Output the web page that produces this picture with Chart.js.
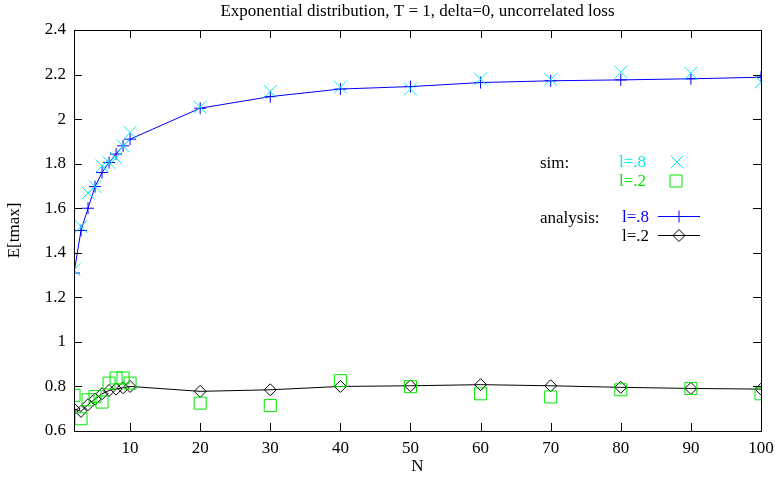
<!DOCTYPE html>
<html>
<head>
<meta charset="utf-8">
<script src="https://cdn.jsdelivr.net/npm/chart.js@4/dist/chart.umd.min.js"></script>
<style>
  html, body { margin: 0; padding: 0; background: #fff; }
  canvas { display: block; }
</style>
</head>
<body>
<canvas id="tmaxChart" width="775" height="477"></canvas>
<script>
// N values (2..10, then 20..100)
const nValues = [2, 3, 4, 5, 6, 7, 8, 9, 10, 20, 30, 40, 50, 60, 70, 80, 90, 100];

// simulation results
const simHigh = [1.324, 1.518, 1.668, 1.697, 1.79, 1.805, 1.825, 1.88, 1.94,
                 2.054, 2.124, 2.144, 2.135, 2.18, 2.178, 2.211, 2.206, 2.166];
const simLow = [0.76, 0.655, 0.74, 0.755, 0.73, 0.815, 0.838, 0.838, 0.815,
                0.725, 0.714, 0.826, 0.799, 0.767, 0.753, 0.785, 0.791, 0.767];

// analytical results
const anaHigh = [1.309, 1.50, 1.60, 1.697, 1.76, 1.805, 1.843, 1.88, 1.91,
                 2.049, 2.101, 2.135, 2.146, 2.164, 2.172, 2.176, 2.181, 2.188];
const anaLow = [0.699, 0.688, 0.718, 0.743, 0.767, 0.782, 0.788, 0.794, 0.80,
                0.778, 0.785, 0.80, 0.803, 0.808, 0.803, 0.796, 0.791, 0.788];

const xTicks = [10, 20, 30, 40, 50, 60, 70, 80, 90, 100];
const yTicks = [0.6, 0.8, 1.0, 1.2, 1.4, 1.6, 1.8, 2.0, 2.2, 2.4];

const TITLE = 'Exponential distribution, T = 1, delta=0, uncorrelated loss';
const FONT = 'Liberation Serif';
const FSIZE = 17;
const CYAN = '#00eeee';
const GREEN = '#00e600';
const BLUE = '#0000ff';
const NONE = 'rgba(0,0,0,0)';

function pts(ys) {
    return nValues.map((n, i) => ({ x: n, y: ys[i] }));
}

// gnuplot style frame: border plus inward ticks mirrored on all sides,
// title centred over the plot box
const framePlugin = {
    id: 'frame',
    afterDatasetsDraw(chart) {
        const ctx = chart.ctx;
        const a = chart.chartArea;
        const xs = chart.scales.x, ys = chart.scales.y;
        const len = 8;
        ctx.save();
        ctx.strokeStyle = '#000';
        ctx.lineWidth = 1;
        ctx.beginPath();
        xTicks.forEach(v => {
            const px = Math.round(xs.getPixelForValue(v)) + 0.5;
            ctx.moveTo(px, a.bottom); ctx.lineTo(px, a.bottom - len);
            ctx.moveTo(px, a.top); ctx.lineTo(px, a.top + len);
        });
        yTicks.forEach(v => {
            const py = Math.round(ys.getPixelForValue(v)) + 0.5;
            ctx.moveTo(a.left, py); ctx.lineTo(a.left + len, py);
            ctx.moveTo(a.right, py); ctx.lineTo(a.right - len, py);
        });
        ctx.stroke();
        ctx.strokeRect(Math.round(a.left) + 0.5, Math.round(a.top) + 0.5,
                       Math.round(a.right - a.left), Math.round(a.bottom - a.top));

        ctx.fillStyle = '#000';
        ctx.font = FSIZE + 'px "' + FONT + '"';
        ctx.textAlign = 'center';
        ctx.textBaseline = 'middle';
        ctx.fillText(TITLE, (a.left + a.right) / 2, 12);
        ctx.restore();
    }
};

// key in the upper right part of the plot
const keyPlugin = {
    id: 'key',
    afterDraw(chart) {
        const ctx = chart.ctx;
        const draw = Chart.helpers.drawPoint;
        ctx.save();
        ctx.font = FSIZE + 'px "' + FONT + '"';
        ctx.textBaseline = 'middle';
        ctx.textAlign = 'left';

        ctx.fillStyle = '#000';
        ctx.fillText('sim:', 540, 164);
        ctx.fillText('analysis:', 540, 219);

        ctx.fillStyle = CYAN;
        ctx.fillText('l=.8', 619, 163);
        ctx.fillStyle = GREEN;
        ctx.fillText('l=.2', 619, 182);
        ctx.fillStyle = BLUE;
        ctx.fillText('l=.8', 622, 218);
        ctx.fillStyle = '#000';
        ctx.fillText('l=.2', 622, 237);

        ctx.lineWidth = 1;
        ctx.fillStyle = NONE;
        ctx.strokeStyle = CYAN;
        draw(ctx, { pointStyle: 'crossRot', radius: 9, rotation: 0, borderWidth: 1 }, 677, 162);
        ctx.strokeStyle = GREEN;
        draw(ctx, { pointStyle: 'rect', radius: 8.5, rotation: 0, borderWidth: 1 }, 676, 181);

        ctx.strokeStyle = BLUE;
        ctx.beginPath(); ctx.moveTo(658, 216.5); ctx.lineTo(700, 216.5); ctx.stroke();
        draw(ctx, { pointStyle: 'cross', radius: 6, rotation: 0, borderWidth: 1 }, 679, 216.5);
        ctx.strokeStyle = '#000';
        ctx.beginPath(); ctx.moveTo(658, 235.5); ctx.lineTo(700, 235.5); ctx.stroke();
        draw(ctx, { pointStyle: 'rectRot', radius: 6, rotation: 0, borderWidth: 1 }, 679, 235.5);
        ctx.restore();
    }
};

const tickFont = { family: FONT, size: FSIZE };

new Chart(document.getElementById('tmaxChart'), {
    type: 'scatter',
    data: {
        datasets: [
            {
                label: 'sim l=.8',
                data: pts(simHigh),
                showLine: false,
                pointStyle: 'crossRot',
                pointRadius: 9,
                pointBorderWidth: 1,
                borderColor: CYAN,
                backgroundColor: CYAN
            },
            {
                label: 'sim l=.2',
                data: pts(simLow),
                showLine: false,
                pointStyle: 'rect',
                pointRadius: 8.5,
                pointBorderWidth: 1,
                borderColor: GREEN,
                backgroundColor: NONE
            },
            {
                label: 'analysis l=.8',
                data: pts(anaHigh),
                showLine: true,
                tension: 0,
                borderWidth: 1,
                pointStyle: 'cross',
                pointRadius: 6,
                pointBorderWidth: 1,
                borderColor: BLUE,
                backgroundColor: BLUE
            },
            {
                label: 'analysis l=.2',
                data: pts(anaLow),
                showLine: true,
                tension: 0,
                borderWidth: 1,
                pointStyle: 'rectRot',
                pointRadius: 6,
                pointBorderWidth: 1,
                borderColor: '#000',
                pointBackgroundColor: NONE
            }
        ]
    },
    options: {
        responsive: false,
        animation: false,
        devicePixelRatio: 1,
        layout: { padding: { left: 0, right: 14, top: 30, bottom: 0 } },
        plugins: {
            legend: { display: false },
            tooltip: { enabled: false },
            title: { display: false }
        },
        scales: {
            x: {
                type: 'linear',
                min: 2,
                max: 100,
                grid: { display: false, drawTicks: false },
                border: { display: false },
                afterBuildTicks: s => { s.ticks = xTicks.map(v => ({ value: v })); },
                afterFit: s => { s.height = 46; s.paddingLeft = 0; s.paddingRight = 0; },
                ticks: {
                    color: '#000',
                    padding: 7,
                    maxRotation: 0,
                    font: tickFont
                },
                title: {
                    display: true,
                    text: 'N',
                    color: '#000',
                    font: tickFont,
                    padding: { top: 0, bottom: 0 }
                }
            },
            y: {
                min: 0.6,
                max: 2.4,
                grid: { display: false, drawTicks: false },
                border: { display: false },
                afterBuildTicks: s => { s.ticks = yTicks.map(v => ({ value: v })); },
                afterFit: s => { s.width = 74; s.paddingTop = 0; s.paddingBottom = 0; },
                ticks: {
                    color: '#000',
                    padding: 8,
                    font: tickFont,
                    callback: v => String(Math.round(v * 10) / 10)
                },
                title: {
                    display: true,
                    text: 'E[tmax]',
                    color: '#000',
                    font: tickFont,
                    padding: { top: 4, bottom: 0 }
                }
            }
        }
    },
    plugins: [framePlugin, keyPlugin]
});
</script>
</body>
</html>
